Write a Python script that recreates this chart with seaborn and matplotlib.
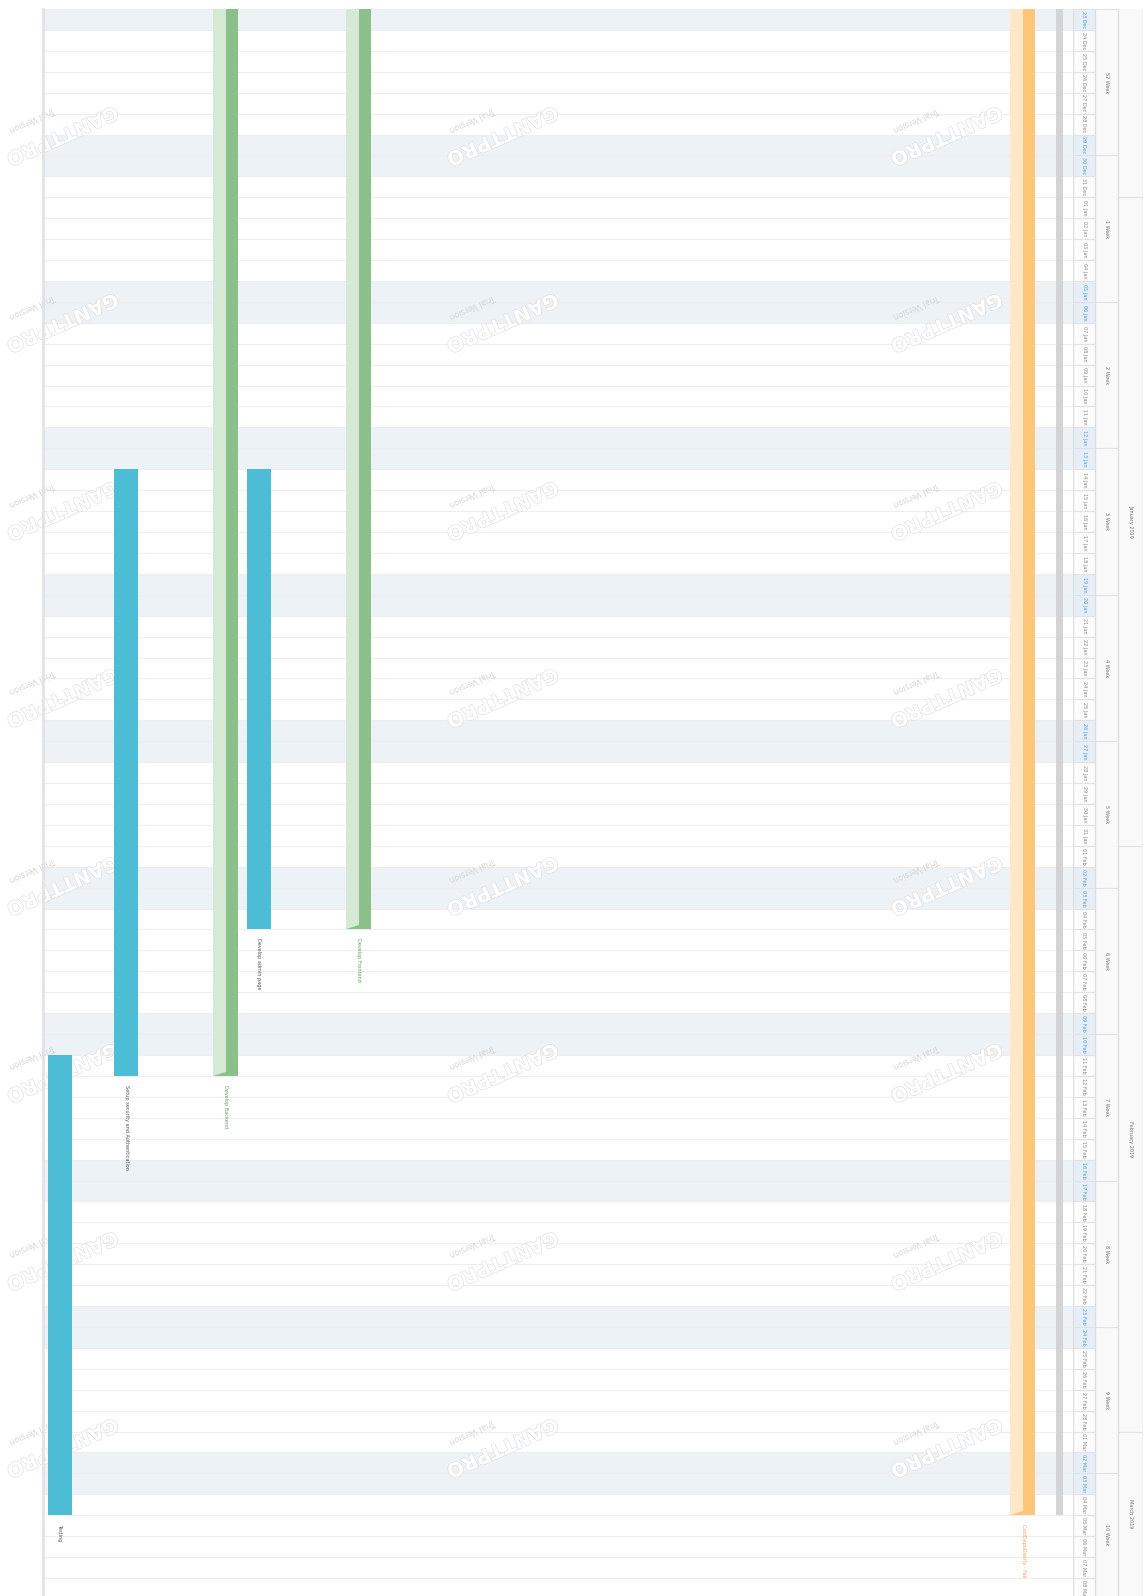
import matplotlib
matplotlib.use("Agg")
import numpy as np
import pandas as pd
import matplotlib.pyplot as plt
import matplotlib.dates as mdates
import matplotlib.patheffects as pe
from matplotlib.patches import Polygon
import seaborn as sns

# ---------------- data ----------------
task_names = ["Testing", "Setup security and Authentication", "Develop Backend",
              "Develop admin page", "Develop Frontend", "CoolDepoDiarity - Fail", ""]
task_lanes = [0, 2, 5, 6, 9, 29, 30]
task_starts = ["2019-02-11", "2019-01-14", "2018-12-10", "2019-01-14",
               "2018-12-10", "2018-12-03", "2018-12-03"]
task_ends = ["2019-03-05", "2019-02-12", "2019-02-12", "2019-02-05",
             "2019-02-05", "2019-03-05", "2019-03-05"]
task_kinds = ["task", "task", "group", "task", "group", "milestone_group", "summary"]

week_labels = ["52 Week", "1 Week", "2 Week", "3 Week", "4 Week", "5 Week",
               "6 Week", "7 Week", "8 Week", "9 Week", "10 Week"]
month_labels = ["January 2019", "February 2019", "March 2019"]
month_starts = ["2019-01-01", "2019-02-01", "2019-03-01"]
view_start = "2018-12-23"

# ---------------- style ----------------
sns.set_theme(style="white")
plt.rcParams["font.family"] = ["DejaVu Sans"]
plt.rcParams["font.stretch"] = "condensed"

W, H = 1147, 1596
TOP = 9
ROW = 20.92
fig = plt.figure(figsize=(W / 100, H / 100), dpi=100)
fig.patch.set_facecolor("white")

t0 = pd.Timestamp(view_start)
y_top = mdates.date2num(t0)
n_days = (H - TOP) / ROW
y_bot = y_top + n_days

blue = "#4dbdd5"
green_l, green_d, green_t = "#d6e9d5", "#8cc08b", "#62a262"
orange_l, orange_d, orange_t = "#fee8c8", "#fdc679", "#f4a24c"
grey_bar = "#d4d4d4"
weekend_bg = "#edf2f7"
line_c = "#eeeeee"
SMALL = 4.0

# ---------------- main chart ----------------
ax = fig.add_axes([43 / W, 0, (1073 - 43) / W, 1 - TOP / H])
ax.set_facecolor("white")
ax.set_xlim(-0.5, 30.5)
ax.set_ylim(y_bot, y_top)
for s in ["top", "right", "bottom"]:
    ax.spines[s].set_visible(False)
ax.spines["left"].set_color("#e3e3e3")
ax.spines["left"].set_linewidth(2)
ax.set_xticks([])
ax.set_yticks([])

days = pd.date_range(t0, periods=int(np.ceil(n_days)) + 1, freq="D")
for d in days:
    dn = mdates.date2num(d)
    if d.weekday() >= 5:
        ax.axhspan(dn, dn + 1, color=weekend_bg, lw=0, zorder=0)
ax.hlines([mdates.date2num(d) for d in days], -0.5, 30.5, color=line_c, lw=0.8, zorder=0.2)

# watermark, between the background bands and the bars
def px(x, y):
    return x / W, 1 - y / H

for cx in [62, 502, 946]:
    for cy in [135, 322, 510, 697, 885, 1072, 1260, 1447]:
        ax.text(*px(cx, cy), "GANTTPRO", transform=fig.transFigure, rotation=204,
                rotation_mode="anchor", ha="center", va="center", fontsize=14,
                fontweight="bold", color="white", clip_on=False, zorder=1,
                fontstretch="normal",
                path_effects=[pe.Stroke(linewidth=0.9, foreground="#dedede"), pe.Normal()])
        ax.text(*px(cx - 30, cy - 16), "Trial Version", transform=fig.transFigure,
                rotation=204, rotation_mode="anchor", ha="center", va="center",
                fontsize=6.5, color="#d6d6d6", clip_on=False, zorder=1)

for name, lane, s, e, kind in zip(task_names, task_lanes, task_starts, task_ends, task_kinds):
    sn = mdates.date2num(pd.Timestamp(s))
    en = mdates.date2num(pd.Timestamp(e))
    if kind == "task":
        ax.bar(lane, en - sn, bottom=sn, width=0.72, color=blue, lw=0, zorder=3)
        tc = "#555555"
    elif kind in ("group", "milestone_group"):
        light, dark = (green_l, green_d) if kind == "group" else (orange_l, orange_d)
        tc = green_t if kind == "group" else orange_t
        ax.bar(lane - 0.195, en - sn, bottom=sn, width=0.39, color=light, lw=0, zorder=3)
        ax.bar(lane + 0.18, en - sn, bottom=sn, width=0.36, color=dark, lw=0, zorder=3)
        tri = Polygon([[lane - 0.39, en], [lane, en], [lane, en - 0.2]],
                      closed=True, color=dark, lw=0, zorder=3.5)
        ax.add_patch(tri)
    else:
        ax.bar(lane + 0.1, en - sn, bottom=sn, width=0.21, color=grey_bar, lw=0, zorder=3)
        tc = "#555555"
    if name:
        ax.text(lane, en + 0.42, name, rotation=-90, ha="center", va="top",
                fontsize=SMALL, color=tc, zorder=4)

# ---------------- timeline header ----------------
hx = fig.add_axes([1073 / W, 0, 70 / W, 1 - TOP / H])
hx.set_xlim(0, 70)
hx.set_ylim(y_bot, y_top)
hx.set_facecolor("#f9f9f9")
for s in hx.spines.values():
    s.set_visible(False)
hx.set_xticks([])
hx.set_yticks([])

hx.axvspan(0, 22, color="#fcfcfc", lw=0, zorder=0)
for d in days:
    dn = mdates.date2num(d)
    wk = d.weekday() >= 5
    if wk:
        hx.axhspan(dn, dn + 1, xmin=0, xmax=22 / 70, color="#e6eef8", lw=0, zorder=0.5)
    hx.hlines(dn, 0, 22, color="#e2e2e2", lw=0.8, zorder=1)
    if dn + 0.5 < y_bot:
        hx.text(11, dn + 0.5, d.strftime("%d %b"), rotation=-90, ha="center", va="center",
                fontsize=SMALL, color="#5b9bd8" if wk else "#8a8a8a", zorder=2)

for i, lab in enumerate(week_labels):
    ws = y_top + 7 * i
    hx.hlines(ws, 22, 45, color="#e2e2e2", lw=0.8, zorder=1)
    hx.text(33.5, min(ws + 3.5, (ws + y_bot) / 2), lab, rotation=-90, ha="center",
            va="center", fontsize=SMALL, color="#777777", zorder=2)

for lab, ms in zip(month_labels, month_starts):
    mn = mdates.date2num(pd.Timestamp(ms))
    nxt = mdates.date2num(pd.Timestamp(ms) + pd.offsets.MonthBegin(1))
    hx.hlines(mn, 45, 70, color="#e2e2e2", lw=0.8, zorder=1)
    hx.text(57.5, (mn + min(nxt, y_bot)) / 2, lab, rotation=-90, ha="center",
            va="center", fontsize=SMALL, color="#777777", zorder=2)

for xv in [0, 22, 45, 69.5]:
    hx.axvline(xv, color="#dedede", lw=1, zorder=1)

fig.savefig("out.png", dpi=100, facecolor="white")
